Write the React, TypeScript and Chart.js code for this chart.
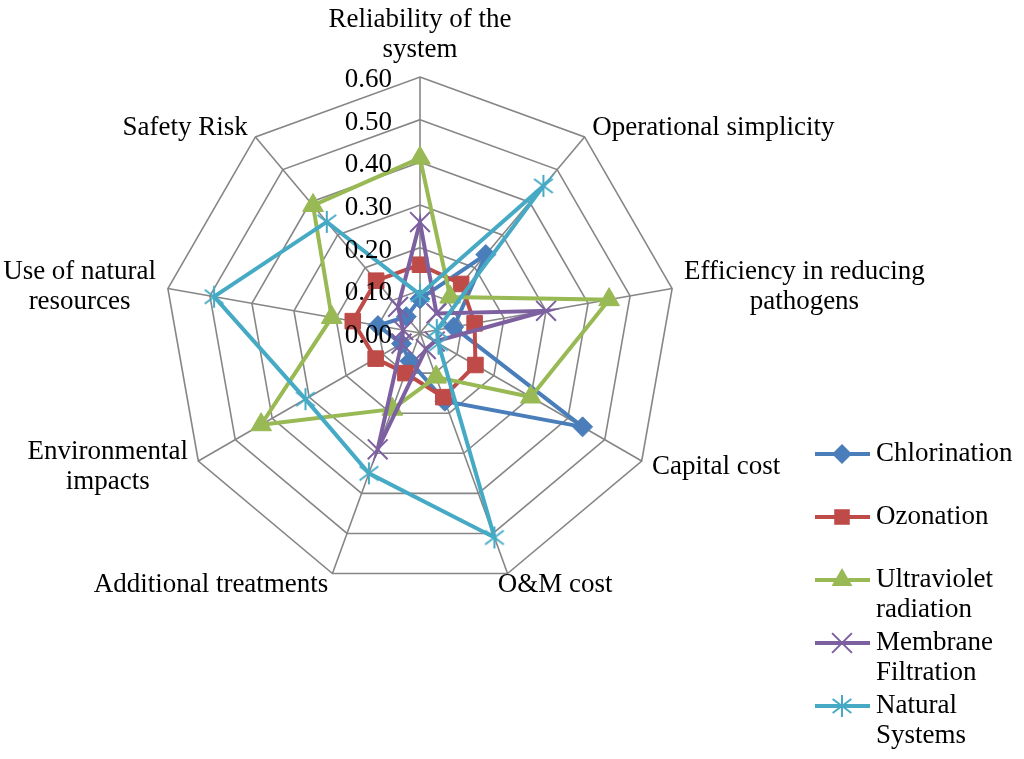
import React, { useEffect, useRef } from 'react';
import { Chart, registerables } from 'chart.js';

Chart.register(...registerables);

// ---------- data ----------
const categories: (string | string[])[] = [
  ['Reliability of the', 'system'],
  'Operational simplicity',
  ['Efficiency in reducing', 'pathogens'],
  'Capital cost',
  'O&M cost',
  'Additional treatments',
  ['Environmental', 'impacts'],
  ['Use of natural', 'resources'],
  'Safety Risk',
];

const seriesNames = ['Chlorination', 'Ozonation', 'Ultraviolet radiation', 'Membrane Filtration', 'Natural Systems'];
const legendLines = [['Chlorination'], ['Ozonation'], ['Ultraviolet', 'radiation'], ['Membrane', 'Filtration'], ['Natural', 'Systems']];

const chlorination = [0.08, 0.24, 0.08, 0.44, 0.17, 0.07, 0.05, 0.10, 0.05];
const ozonation = [0.16, 0.15, 0.13, 0.15, 0.16, 0.10, 0.12, 0.16, 0.16];
const ultraviolet = [0.41, 0.11, 0.45, 0.30, 0.11, 0.19, 0.43, 0.21, 0.39];
const membrane = [0.26, 0.06, 0.30, 0.04, 0.04, 0.29, 0.05, 0.04, 0.08];
const naturalSystems = [0.09, 0.45, 0.04, 0.05, 0.51, 0.35, 0.31, 0.49, 0.34];

const tickValues = [0, 0.1, 0.2, 0.3, 0.4, 0.5, 0.6];
const tickLabels = ['0.00', '0.10', '0.20', '0.30', '0.40', '0.50', '0.60'];

// ---------- styles ----------
const seriesData = [chlorination, ozonation, ultraviolet, membrane, naturalSystems];
const colors = ['#4A7EBB', '#BE4B48', '#98B954', '#7D60A0', '#46AAC5'];
const markerStyles = ['rectRot', 'rect', 'triangle', 'crossRot', 'asterisk'];
const markerRadius = [10, 11, 12, 14, 11];
const FONT = '27px "Liberation Serif", "Times New Roman", serif';
const LINE_H = 30;

function makeAsterisk(color: string, r: number): HTMLCanvasElement {
  const c = document.createElement('canvas');
  const size = r * 2 + 4;
  c.width = size;
  c.height = size;
  const g = c.getContext('2d')!;
  g.strokeStyle = color;
  g.lineWidth = 2;
  const m = size / 2;
  const d = r * 0.85;
  g.beginPath();
  g.moveTo(m, m - r);
  g.lineTo(m, m + r);
  g.moveTo(m - d, m - d * 0.75);
  g.lineTo(m + d, m + d * 0.75);
  g.moveTo(m - d, m + d * 0.75);
  g.lineTo(m + d, m - d * 0.75);
  g.stroke();
  return c;
}

function drawMarker(ctx: CanvasRenderingContext2D, style: string, x: number, y: number, r: number, color: string) {
  ctx.save();
  ctx.fillStyle = color;
  ctx.strokeStyle = color;
  ctx.lineWidth = 2;
  ctx.beginPath();
  if (style === 'rectRot') {
    ctx.moveTo(x, y - r);
    ctx.lineTo(x + r, y);
    ctx.lineTo(x, y + r);
    ctx.lineTo(x - r, y);
    ctx.closePath();
    ctx.fill();
  } else if (style === 'rect') {
    const s = r * Math.SQRT1_2;
    ctx.rect(x - s, y - s, 2 * s, 2 * s);
    ctx.fill();
  } else if (style === 'triangle') {
    for (let k = 0; k < 3; k++) {
      const a = (k * 2 * Math.PI) / 3;
      const px = x + Math.sin(a) * r;
      const py = y - Math.cos(a) * r;
      if (k === 0) ctx.moveTo(px, py);
      else ctx.lineTo(px, py);
    }
    ctx.closePath();
    ctx.fill();
  } else if (style === 'crossRot') {
    const d = r * Math.SQRT1_2;
    ctx.moveTo(x - d, y - d);
    ctx.lineTo(x + d, y + d);
    ctx.moveTo(x - d, y + d);
    ctx.lineTo(x + d, y - d);
    ctx.stroke();
  } else {
    const d = r * 0.85;
    ctx.moveTo(x, y - r);
    ctx.lineTo(x, y + r);
    ctx.moveTo(x - d, y - d * 0.75);
    ctx.lineTo(x + d, y + d * 0.75);
    ctx.moveTo(x - d, y + d * 0.75);
    ctx.lineTo(x + d, y - d * 0.75);
    ctx.stroke();
  }
  ctx.restore();
}

const textPlugin = {
  id: 'customText',
  afterDraw(chart: any) {
    const ctx: CanvasRenderingContext2D = chart.ctx;
    const scale = chart.scales.r;
    ctx.save();
    ctx.fillStyle = '#000';
    ctx.font = FONT;

    // tick labels
    ctx.textAlign = 'right';
    ctx.textBaseline = 'middle';
    tickValues.forEach((v, i) => {
      const y = scale.yCenter - scale.getDistanceFromCenterForValue(v);
      ctx.fillText(tickLabels[i], scale.xCenter - 28, y + 3);
    });

    // point labels
    categories.forEach((lab, i) => {
      const lines = Array.isArray(lab) ? lab : [lab];
      const angle = scale.getIndexAngle(i);
      const s = Math.sin(angle);
      const c = Math.cos(angle);
      const p = scale.getPointPosition(i, scale.drawingArea + 12);
      const w = Math.max(...lines.map((l) => ctx.measureText(l).width));
      const h = lines.length * LINE_H;
      let left: number;
      if (Math.abs(s) < 0.1) left = p.x - w / 2;
      else if (s > 0) left = p.x - (c < -0.7 ? 14 : 0);
      else left = p.x - w;
      const top = Math.abs(s) < 0.1 && c > 0 ? p.y - h : p.y - h / 2;
      ctx.textAlign = 'center';
      ctx.textBaseline = 'middle';
      lines.forEach((l, k) => ctx.fillText(l, left + w / 2, top + LINE_H * (k + 0.5)));
    });

    // legend
    legendLines.forEach((lines, i) => {
      const y0 = 454 + 63 * i;
      ctx.save();
      ctx.strokeStyle = colors[i];
      ctx.lineWidth = 4;
      ctx.beginPath();
      ctx.moveTo(815, y0);
      ctx.lineTo(870, y0);
      ctx.stroke();
      ctx.restore();
      drawMarker(ctx, markerStyles[i], 842, y0, markerRadius[i], colors[i]);
      ctx.fillStyle = '#000';
      ctx.textAlign = 'left';
      ctx.textBaseline = 'middle';
      lines.forEach((l, k) => ctx.fillText(l, 876, y0 + LINE_H * k));
    });
    ctx.restore();
  },
};

export default function App() {
  const ref = useRef<HTMLCanvasElement | null>(null);

  useEffect(() => {
    if (!ref.current) return;
    const datasets = seriesData.map((d, i) => ({
      label: seriesNames[i],
      data: d,
      borderColor: colors[i],
      backgroundColor: colors[i],
      borderWidth: 4,
      fill: false,
      tension: 0,
      order: 5 - i,
      pointStyle: markerStyles[i] === 'asterisk' ? makeAsterisk(colors[i], markerRadius[i]) : markerStyles[i],
      pointRadius: markerRadius[i],
      pointBackgroundColor: colors[i],
      pointBorderColor: colors[i],
      pointBorderWidth: markerStyles[i] === 'crossRot' ? 2 : 1,
    }));
    const chart = new Chart(ref.current, {
      type: 'radar',
      data: { labels: categories as any, datasets: datasets as any },
      options: {
        responsive: false,
        animation: false,
        layout: { padding: { left: 164, top: 77, right: 348, bottom: 170 } },
        plugins: { legend: { display: false }, tooltip: { enabled: false } },
        scales: {
          r: {
            min: 0,
            max: 0.6,
            ticks: { stepSize: 0.1, display: false },
            grid: { color: '#868686', lineWidth: 1.6 },
            angleLines: { color: '#868686', lineWidth: 1.6 },
            pointLabels: { display: false },
          },
        },
      },
      plugins: [textPlugin],
    });
    return () => chart.destroy();
  }, []);

  return (
    <div style={{ position: 'fixed', left: 0, top: 0, width: 1024, height: 759, background: '#fff' }}>
      <canvas ref={ref} width={1024} height={759} style={{ display: 'block' }} />
    </div>
  );
}
